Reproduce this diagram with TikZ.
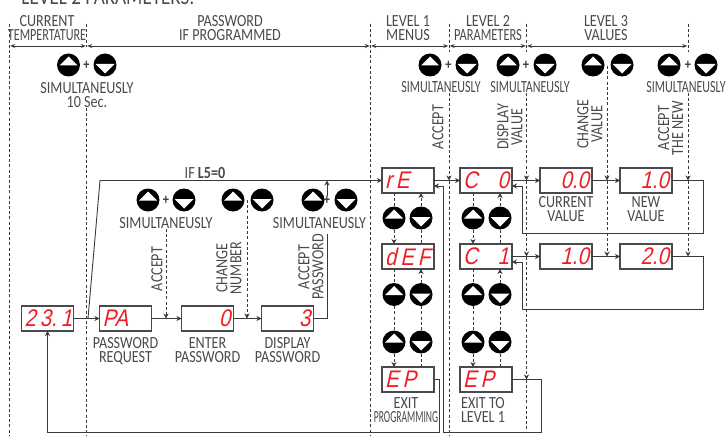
\documentclass[tikz,border=0pt]{standalone}
\usepackage{fontspec}
\usepackage{xcolor}
\setmainfont[FakeStretch=.83]{Carlito}
\newfontfamily\segfont[FakeSlant=.22,FakeStretch=.85]{Liberation Sans}
\usetikzlibrary{arrows.meta,positioning,calc}
\definecolor{cI}{HTML}{3a3a3a}
\definecolor{cT}{HTML}{4a4a4a}
\definecolor{cR}{HTML}{ee1c25}
\newcommand{\narrowtext}[2]{\scalebox{#1}[1]{#2}}
\tikzset{
  disp/.style={draw=cT,line width=1.1pt,inner ysep=0pt,inner xsep=3pt,outer sep=0pt,minimum height=25pt,
               text width=46pt,align=left,text=cR,font=\fontsize{24}{24}\segfont},
  lbl/.style={text=cT,align=center,inner sep=0pt,font=\fontsize{17}{14}\selectfont},
  rot/.style={lbl,rotate=90},
  flow/.style={-{Stealth[length=5pt,width=5pt]},line width=.9pt,cI},
  line/.style={line width=.9pt,cI},
  guide/.style={dashed,dash pattern=on 3pt off 2.2pt,line width=.75pt,cI},
  guidetip/.style={guide,-{Stealth[length=5pt,width=5pt]}},
  span/.style={{Stealth[length=5pt,width=4pt]}-{Stealth[length=5pt,width=4pt]},line width=.8pt,cI},
  plus/.style={text=cI,inner sep=0pt,font=\fontsize{15}{15}\bfseries},
  btnup/.style={circle,fill=black,inner sep=0pt,minimum size=23pt,path picture={
      \fill[white] (-9,-.5) -- (0,8.5) -- (9,-.5) -- cycle;}},
  btndn/.style={circle,fill=black,inner sep=0pt,minimum size=23pt,path picture={
      \fill[white] (-9.5,1) -- (0,-8.5) -- (9.5,1) -- cycle;}},
}
\begin{document}
\begin{tikzpicture}[x=1pt,y=1pt]
  \useasboundingbox (0,0) rectangle (726,-436);
  \coordinate (bot) at (0,-436);
  \node[lbl,font=\fontsize{23}{22}\selectfont] (title) at (108,2.5) {LEVEL 2 PARAMETERS:};

  % top of the level guides
  \foreach \n/\x in {ga/9.5,gb/86.5,gc/370.5,gd/449,ge/526.5,gf/688}
    \coordinate (\n) at (\x,-24);
  \foreach \a/\b in {ga/gb,gb/gc,gc/gd,gd/ge,ge/gf}
    \draw[span] ($(\a)+(.7,-22)$) -- ($(\b)+(-.7,-22)$);

  % headers
  \node[lbl] (hcur) at (47,-28) {CURRENT\\\narrowtext{.86}{TEMPERTATURE}};
  \node[lbl] (hpas) at (230,-28) {PASSWORD\\IF PROGRAMMED};
  \node[lbl] (hmen) at (408,-28) {LEVEL 1\\MENUS};
  \node[lbl] (hpar) at (488,-28) {LEVEL 2\\\narrowtext{.88}{PARAMETERS}};
  \node[lbl] (hval) at (606,-28) {LEVEL 3\\VALUES};

  % push buttons, top rows
  \foreach \n/\x/\y in {pa/68.5/65,pc/148/200,pe/233/200,pg/313/200,
                        ta/430/65,tc/508/65,te/593/65,tg/669/65}
    \node[btnup] (\n) at (\x,-\y) {};
  \foreach \n/\x/\y in {pb/105/65,pd/184/200,pf/262/200,ph/346/200,
                        tb/467/65,td/545/65,tf/622/65,th/706/65}
    \node[btndn] (\n) at (\x,-\y) {};
  \node[plus] (pla) at (86.5,-65.5) {+};
  \node[plus] (plb) at (166,-200.5) {+};
  \node[plus] (plc) at (327,-200.5) {+};
  \node[plus] (pld) at (448.5,-65.5) {+};
  \node[plus] (ple) at (526,-65.5) {+};
  \node[plus] (plf) at (688,-65.5) {+};

  \node[lbl] (sa) at (87,-95) {SIMULTANEUSLY\\10 Sec.};
  \node[lbl] (sb) at (166,-223) {SIMULTANEUSLY};
  \node[lbl] (sc) at (319.5,-223) {SIMULTANEUSLY};
  \node[lbl] (sd) at (441,-87) {\narrowtext{.85}{SIMULTANEUSLY}};
  \node[lbl] (se) at (530,-87) {\narrowtext{.85}{SIMULTANEUSLY}};
  \node[lbl] (sf) at (686,-87) {\narrowtext{.85}{SIMULTANEUSLY}};

  % displays
  \node[disp] (temp) at (47.5,-318.5) {2\,3.\,1};
  \node[disp,right=26pt of temp] (req) {PA};
  \node[disp,right=30pt of req] (enter) {\hfill 0};
  \node[disp,right=28pt of enter] (show) {\hfill 3};
  \node[disp] (re) at (408,-180.5) {r\,E};
  \node[disp,right=26pt of re] (cz) {C\hfill 0};
  \node[disp,right=28pt of cz] (cur) {\hfill 0.0};
  \node[disp,right=28pt of cur] (new) {\hfill 1.0};
  \node[disp,below=51pt of re] (def) {d\,E\,F};
  \node[disp,below=51pt of cz] (con) {C\hfill 1};
  \node[disp,below=51pt of cur] (cura) {\hfill 1.0};
  \node[disp,below=51pt of new] (newa) {\hfill 2.0};
  \node[disp,below=98pt of def] (epa) {E\,P};
  \node[disp,below=98pt of con] (epb) {E\,P};

  % captions
  \node[lbl,below=6pt of req] (creq) {PASSWORD\\REQUEST};
  \node[lbl,below=6pt of enter] (cent) {ENTER\\PASSWORD};
  \node[lbl,below=6pt of show] (cdis) {DISPLAY\\PASSWORD};
  \node[lbl,below=3.5pt of cur] (ccur) {CURRENT\\VALUE};
  \node[lbl,below=3.5pt of new] (cnew) {NEW\\VALUE};
  \node[lbl] (cexa) at (406,-410) {EXIT\\\narrowtext{.68}{PROGRAMMING}};
  \node[lbl] (cexb) at (483,-410) {EXIT TO\\LEVEL 1};

  \node[rot] (ra) at (157,-269) {ACCEPT};
  \node[rot] (rb) at (229,-268) {CHANGE\\NUMBER};
  \node[rot] (rc) at (311,-267) {ACCEPT\\PASSWORD};
  \node[rot] (rd) at (438,-127) {ACCEPT};
  \node[rot] (re1) at (510,-127) {DISPLAY\\VALUE};
  \node[rot] (rf) at (590,-124) {CHANGE\\VALUE};
  \node[rot] (rg) at (670.5,-128) {ACCEPT\\THE NEW};

  % level guides
  \draw[guide] (ga) -- (ga |- bot);
  \draw[guide] (gc) -- (gc |- bot);
  \draw[guide] (gb) -- ++(0,-23);
  \draw[guide] (gb |- sa.south) -- (gb |- bot);
  \foreach \g/\s in {gd/sd,ge/se,gf/sf}{
    \draw[guide] (\g) -- ++(0,-28);
    \draw[guidetip] (\g |- \s.south) -- (\g |- re);
  }
  \draw[guide] (gd |- re) -- (gd |- bot);
  \draw[guidetip] (ge |- re) -- (ge |- con);
  \draw[guidetip] (ge |- con) -- (ge |- epb);
  \draw[guide] (ge |- epb) -- (ge |- 0,-432);
  \draw[guidetip] (gf |- re) -- (gf |- con);
  \coordinate (ch) at (607,-66);
  \draw[guidetip] (ch) -- (ch |- re);
  \draw[guidetip] (ch |- re) -- (ch |- con);
  \coordinate (cn) at (247,-200);
  \draw[guidetip] (cn) -- (cn |- req);
  \draw[guidetip] (sb.south) -- (sb.south |- req);

  % side buttons of the two lists
  \foreach \col/\tp/\md/\bt/\xu/\xd in {a/re/def/epa/394/421,b/cz/con/epb/473/500}{
    \node[btnup] (\col u1) at (\xu,-218) {};
    \node[btndn] (\col d1) at (\xd,-218) {};
    \node[btnup] (\col u2) at (\xu,-294.5) {};
    \node[btndn] (\col d2) at (\xd,-294.5) {};
    \node[btnup] (\col u3) at (\xu,-342) {};
    \node[btndn] (\col d3) at (\xd,-342) {};
    \draw[guide] (\tp.south -| \col u1) -- (\col u1);
    \draw[guidetip] (\col u1) -- (\md.north -| \col u1);
    \draw[guidetip] (\col d1) -- (\tp.south -| \col d1);
    \draw[guide] (\col d1) -- (\md.north -| \col d1);
    \draw[guide] (\md.south -| \col u2) -- (\col u2);
    \draw[guidetip] (\col d2) -- (\md.south -| \col d2);
    \draw[guide] (\col u2) -- (\col u3);
    \draw[guide] (\col d2) -- (\col d3);
    \draw[guidetip] (\col u3) -- (\bt.north -| \col u3);
    \draw[guide] (\col d3) -- (\bt.north -| \col d3);
  }

  % solid connectors
  \draw[flow] (temp) -- (req);
  \draw[flow] (req) -- (enter);
  \draw[flow] (enter) -- (show);
  \coordinate (ifa) at (88,-318.5);
  \coordinate (ifb) at (100,-180.5);
  \draw[flow] (ifa) -- (ifb) -- (re);
  \node[lbl,anchor=south] (ifl) at (205,-179) {IF \textbf{L5=0}};
  \coordinate (acc) at (327,-234);
  \draw[line] (show) -| (acc);
  \draw[flow] (plc) -- (plc |- ifb);
  \draw[flow] (re) -- (cz);
  \draw[flow] (cz) -- (cur);
  \draw[flow] (cur) -- (new);
  \draw[flow] (con) -- (cura);
  \draw[flow] (cura) -- (newa);
  \coordinate (rta) at (703,-233);
  \coordinate (rtb) at (703,-309.5);
  \coordinate (lfa) at ([yshift=-5.5pt,xshift=10pt]cz.east);
  \coordinate (lfb) at ([yshift=-5.5pt,xshift=10pt]con.east);
  \draw[flow] (new) -| (rta) -| (lfa) -- ([yshift=-5.5pt]cz.east);
  \draw[flow] (newa) -| (rtb) -| (lfb) -- ([yshift=-5.5pt]con.east);
  \coordinate (exb) at (541,-432.5);
  \coordinate (exc) at (443,-432.5);
  \draw[flow] (epb) -| (exb) -- (exc) |- ([yshift=-5.5pt]re.east);
  \coordinate (exa) at (439,-432.5);
  \draw[flow] (epa) -| (exa) -| (temp);
\end{tikzpicture}
\end{document}
